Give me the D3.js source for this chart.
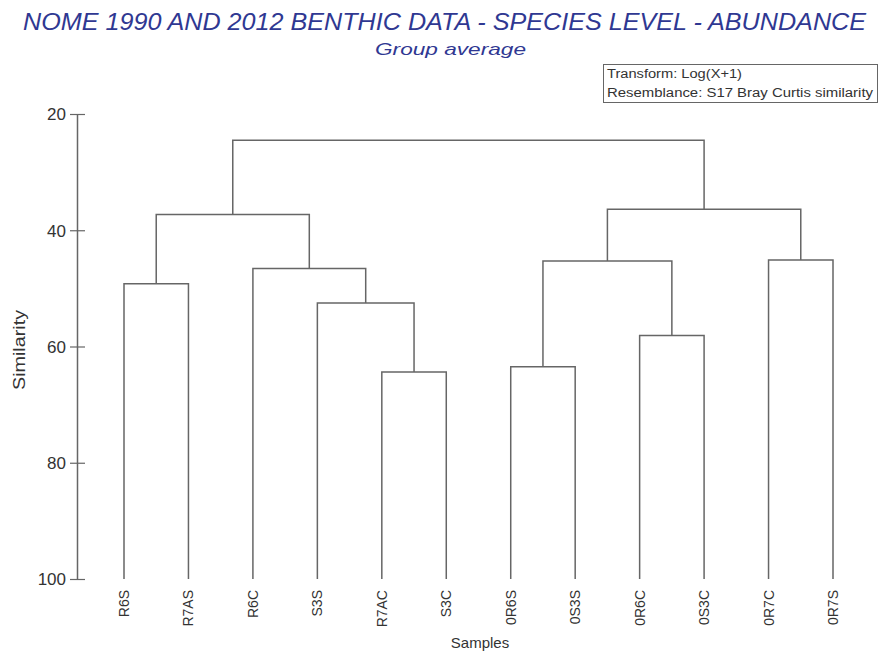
<!DOCTYPE html>
<html>
<head>
<meta charset="utf-8">
<script src="https://cdn.jsdelivr.net/npm/d3@7"></script>
<style>
  html, body { margin: 0; padding: 0; background: #ffffff; }
  svg { display: block; }
  text { font-family: "Liberation Sans", Arial, sans-serif; }
</style>
</head>
<body>
<svg id="chart" width="881" height="664"></svg>
<script>
// ---- data ----
const samples = ["R6S", "R7AS", "R6C", "S3S", "R7AC", "S3C", "0R6S", "0S3S", "0R6C", "0S3C", "0R7C", "0R7S"];
// linkage: cluster n+i is formed by joining mergeLeft[i] and mergeRight[i] at mergeSimilarity[i]
const mergeLeft  = [4, 6, 8, 3, 0, 2, 13, 10, 16, 18, 20];
const mergeRight = [5, 7, 9, 12, 1, 15, 14, 11, 17, 19, 21];
const mergeSimilarity = [64.4, 63.5, 58.1, 52.5, 49.2, 46.6, 45.3, 45.1, 37.3, 36.4, 24.5];
const yTicks = [20, 40, 60, 80, 100];
const titleText = "NOME 1990 AND 2012 BENTHIC DATA - SPECIES LEVEL - ABUNDANCE";
const subtitleText = "Group average";
const legendLines = ["Transform: Log(X+1)", "Resemblance: S17 Bray Curtis similarity"];
const xLabel = "Samples";
const yLabel = "Similarity";

// ---- layout ----
const svg = d3.select("#chart");
const x = d3.scalePoint().domain(samples).range([124, 833]);
const y = d3.scaleLinear().domain([20, 100]).range([114, 579]);
const lineColor = "#666666";
const blue = "#2f3892";

// build node positions
const n = samples.length;
const nodes = samples.map(s => ({ x: x(s), sim: 100 }));
mergeLeft.forEach((l, i) => {
  const r = mergeRight[i];
  const a = nodes[l], b = nodes[r];
  nodes.push({ x: (a.x + b.x) / 2, sim: mergeSimilarity[i], left: l, right: r });
});

// draw dendrogram links (elbow shape)
const g = svg.append("g");
nodes.forEach((nd, i) => {
  if (i < n) return;
  const a = nodes[nd.left], b = nodes[nd.right];
  const path = d3.path();
  path.moveTo(a.x, y(a.sim));
  path.lineTo(a.x, y(nd.sim));
  path.lineTo(b.x, y(nd.sim));
  path.lineTo(b.x, y(b.sim));
  g.append("path")
    .attr("d", path.toString())
    .attr("fill", "none")
    .attr("stroke", lineColor)
    .attr("stroke-width", 1.5);
});

// y axis
const axisG = svg.append("g")
  .attr("transform", "translate(77,0)")
  .call(d3.axisLeft(y).tickValues(yTicks).tickSizeInner(7).tickSizeOuter(0).tickPadding(4));
axisG.select(".domain").attr("stroke", lineColor).attr("stroke-width", 1.5);
axisG.selectAll(".tick line").attr("x1", 8).attr("x2", -7).attr("stroke", lineColor).attr("stroke-width", 1.2);
axisG.selectAll(".tick text")
  .attr("font-family", "'Liberation Sans', Arial, sans-serif")
  .attr("font-size", 17)
  .attr("fill", "#333")
  .attr("dy", "0.35em");

// x labels (rotated)
svg.append("g").selectAll("text")
  .data(samples)
  .join("text")
  .attr("transform", d => `translate(${x(d) + 5},590) rotate(-90)`)
  .attr("text-anchor", "end")
  .attr("font-size", 14)
  .attr("fill", "#333")
  .text(d => d);

// axis titles
svg.append("text")
  .attr("x", 480).attr("y", 648)
  .attr("text-anchor", "middle")
  .attr("font-size", 15)
  .attr("fill", "#333")
  .text(xLabel);

svg.append("text")
  .attr("transform", "translate(25,350) rotate(-90)")
  .attr("text-anchor", "middle")
  .attr("font-size", 17)
  .attr("fill", "#333")
  .attr("textLength", 80)
  .attr("lengthAdjust", "spacingAndGlyphs")
  .text(yLabel);

// title
svg.append("text")
  .attr("x", 23).attr("y", 30)
  .attr("font-size", 24)
  .attr("font-style", "italic")
  .attr("fill", blue)
  .attr("textLength", 843)
  .attr("lengthAdjust", "spacingAndGlyphs")
  .text(titleText);

svg.append("text")
  .attr("x", 375).attr("y", 55)
  .attr("font-size", 17)
  .attr("font-style", "italic")
  .attr("fill", blue)
  .attr("textLength", 151)
  .attr("lengthAdjust", "spacingAndGlyphs")
  .text(subtitleText);

// legend box
svg.append("rect")
  .attr("x", 603.5).attr("y", 64.5)
  .attr("width", 274).attr("height", 38)
  .attr("fill", "none")
  .attr("stroke", "#666")
  .attr("stroke-width", 1);
svg.append("g").selectAll("text")
  .data(legendLines)
  .join("text")
  .attr("x", 607)
  .attr("y", (d, i) => 78 + i * 19)
  .attr("font-size", 12)
  .attr("fill", "#333")
  .attr("textLength", (d, i) => i === 0 ? 135 : 266)
  .attr("lengthAdjust", "spacingAndGlyphs")
  .text(d => d);
</script>
</body>
</html>
